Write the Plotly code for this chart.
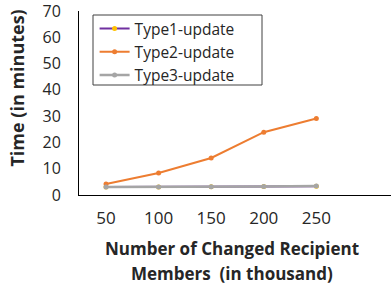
import plotly.graph_objects as go

members = [50, 100, 150, 200, 250]
type1 = [3.0, 3.0, 3.1, 3.2, 3.3]
type2 = [4.2, 8.4, 14.1, 23.9, 29.1]
type3 = [3.0, 3.0, 3.1, 3.2, 3.4]
x_ticks = [50, 100, 150, 200, 250]
y_ticks = [0, 10, 20, 30, 40, 50, 60, 70]

FONT = "Open Sans"
T, B = 11, 96
PH = 291 - T - B

fig = go.Figure()
fig.add_trace(go.Scatter(x=members, y=type1, name="Type1-update", mode="lines+markers",
                         line=dict(color="#7030A0", width=2),
                         marker=dict(color="#FFC000", size=5)))
fig.add_trace(go.Scatter(x=members, y=type2, name="Type2-update", mode="lines+markers",
                         line=dict(color="#ED7D31", width=2),
                         marker=dict(color="#ED7D31", size=5)))
fig.add_trace(go.Scatter(x=members, y=type3, name="Type3-update", mode="lines+markers",
                         line=dict(color="#A5A5A5", width=2.5),
                         marker=dict(color="#A5A5A5", size=5)))

fig.update_layout(
    width=391, height=291,
    margin=dict(l=79, r=0, t=T, b=B, autoexpand=False),
    paper_bgcolor="white", plot_bgcolor="white",
    font=dict(family=FONT, color="#262626", size=16),
    showlegend=True,
    legend=dict(x=0.05, y=1 - (12 - T) / PH, xanchor="left", yanchor="top",
                borderwidth=0, bgcolor="rgba(0,0,0,0)",
                font=dict(family=FONT, size=15.5, color="#262626"),
                tracegroupgap=0, itemwidth=30),
    shapes=[dict(type="rect", xref="paper", yref="paper",
                 x0=(93 - 79) / 312, x1=(262 - 79) / 312,
                 y0=(195 - 85) / PH, y1=(195 - 15) / PH,
                 line=dict(color="#404040", width=1), fillcolor="rgba(0,0,0,0)")],
    xaxis=dict(range=[24.3, 321], tickvals=x_ticks, ticktext=[str(v) for v in x_ticks],
               showgrid=False, zeroline=False, showline=True, linecolor="black", linewidth=1,
               ticks="", ticklabelstandoff=8, automargin=False, ticklabeloverflow="allow",
               tickfont=dict(size=17, family=FONT)),
    yaxis=dict(range=[0, 70], tickvals=y_ticks, showgrid=False, zeroline=False,
               showline=True, linecolor="black", linewidth=1, ticks="", automargin=False,
               ticklabeloverflow="allow",
               ticklabelstandoff=14, tickfont=dict(size=16, family=FONT)),
    annotations=[
        dict(text="<b>Number of Changed Recipient</b>",
             xref="paper", yref="paper", x=0.489, y=(195 - 248) / PH, xanchor="center", yanchor="middle",
             showarrow=False, font=dict(size=17, family=FONT, color="#262626")),
        dict(text="<b>Members  (in thousand)</b>",
             xref="paper", yref="paper", x=0.489, y=(195 - 273) / PH, xanchor="center", yanchor="middle",
             showarrow=False, font=dict(size=17, family=FONT, color="#262626")),
        dict(text="<b>Time (in minutes)</b>", textangle=-90,
             xref="paper", yref="paper", x=-0.2, y=(195 - 88) / PH, xanchor="center", yanchor="middle",
             showarrow=False, font=dict(size=18, family=FONT, color="#262626")),
    ],
)

fig.write_html("out.html", config={"displayModeBar": False},
               post_script="document.body.style.margin='0';")
